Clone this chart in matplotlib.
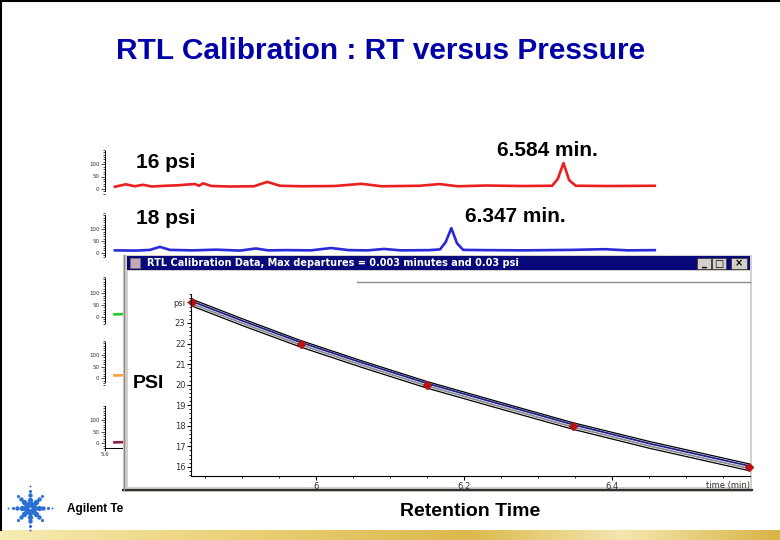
import numpy as np
import matplotlib
matplotlib.use('Agg')
import matplotlib.pyplot as plt
from matplotlib.patches import Rectangle
from matplotlib.ticker import MultipleLocator
from matplotlib.colors import LinearSegmentedColormap

W, H = 780, 540

# calibration points (retention time in min, head pressure in psi)
cal_t = [5.832, 5.979, 6.150, 6.347, 6.584]
cal_psi = [24, 22, 20, 18, 16]

# fitted curves
curve_t = [5.832, 5.90, 5.979, 6.06, 6.150, 6.25, 6.347, 6.45, 6.586]
fit_upper = [24.16, 23.21, 22.15, 21.18, 20.15, 19.13, 18.15, 17.24, 16.14]
fit_blue = [24.06, 23.11, 22.06, 21.09, 20.06, 19.04, 18.06, 17.14, 16.04]
fit_gray = [23.94, 22.99, 21.94, 20.97, 19.94, 18.92, 17.94, 17.02, 15.92]
fit_lower = [23.83, 22.88, 21.83, 20.86, 19.83, 18.81, 17.83, 16.91, 15.81]

psi_ticks = [16, 17, 18, 19, 20, 21, 22, 23, 24]
psi_labels = ['16', '17', '18', '19', '20', '21', '22', '23', 'psi']
time_ticks = [6.0, 6.2, 6.4]
time_labels = ['6', '6.2', '6.4']

# chromatogram at 16 psi
red_t = [5.636, 5.659, 5.678, 5.695, 5.714, 5.742, 5.770, 5.788, 5.805, 5.814,
         5.822, 5.840, 5.880, 5.930, 5.958, 5.985, 6.030, 6.100, 6.157, 6.200,
         6.280, 6.322, 6.360, 6.420, 6.500, 6.560, 6.572, 6.584, 6.596, 6.610,
         6.680, 6.777]
red_v = [8, 18, 10, 16, 9, 12, 14, 17, 19, 12,
         22, 11, 9, 10, 28, 12, 10, 11, 20, 10,
         12, 19, 10, 13, 11, 12, 40, 105, 35, 12,
         11, 12]

# chromatogram at 18 psi
blue_t = [5.636, 5.680, 5.710, 5.731, 5.752, 5.800, 5.850, 5.900, 5.934, 5.960,
          6.000, 6.050, 6.093, 6.130, 6.170, 6.205, 6.240, 6.300, 6.323, 6.335,
          6.347, 6.359, 6.372, 6.420, 6.500, 6.600, 6.671, 6.720, 6.777]
blue_v = [10, 9, 12, 25, 12, 10, 13, 9, 18, 10,
          11, 10, 20, 11, 10, 16, 10, 11, 14, 45,
          105, 40, 12, 11, 10, 12, 15, 10, 11]

# the three chromatograms hidden behind the window
green_t = [5.62, 5.64, 5.66, 5.70, 5.80, 6.00, 6.40, 6.78]
green_v = [10, 11, 9, 12, 10, 11, 10, 12]
orange_t = [5.62, 5.64, 5.66, 5.70, 5.80, 6.00, 6.40, 6.78]
orange_v = [12, 13, 11, 12, 14, 11, 12, 10]
maroon_t = [5.62, 5.64, 5.66, 5.70, 5.80, 6.00, 6.40, 6.78]
maroon_v = [4, 5, 3, 6, 4, 5, 4, 5]


def box(l, t, r, b):
    return [l / W, 1 - b / H, (r - l) / W, (b - t) / H]


fig = plt.figure(figsize=(7.8, 5.4), dpi=100)

# slide background
bg = fig.add_axes([0, 0, 1, 1], zorder=0)
gold = LinearSegmentedColormap.from_list(
    'gold', ['#f6ecb4', '#efd98a', '#e6c869', '#dcb94c', '#f4e6b0', '#d9b444'])
bg.imshow(np.linspace(0, 1, 256)[None, :], extent=(0, W, 540, 530),
          aspect='auto', cmap=gold)
bg.plot([1, 1], [0, 530], color='black', lw=1.5)
bg.plot([0, W], [0.5, 0.5], color='black', lw=1.5)
bg.text(381, 51, 'RTL Calibration : RT versus Pressure', ha='center', va='center',
        fontsize=21.5, fontweight='bold', color='#0000a8', family='Liberation Sans')

# Agilent spark logo
for k in range(8):
    ang = k * np.pi / 4
    n = 5 if k % 2 == 0 else 4
    for j in range(n):
        r = 4 + j * 4.5
        bg.scatter(30 + r * np.cos(ang), 508 + r * np.sin(ang),
                   s=max(20 - j * 5, 2), color='#2a6fd4', lw=0)
bg.text(67, 509, 'Agilent Te', va='center', fontsize=8.5, fontweight='bold',
        family='Liberation Sans')
bg.set_xlim(0, W)
bg.set_ylim(H, 0)
bg.axis('off')


def chrom(l, t, r, b, zero_px, px100, xs, ys, color, bounds, xlim=(5.615, 6.788)):
    ax = fig.add_axes(box(l, t, r, b), zorder=1)
    ax.patch.set_alpha(0)
    ax.plot(xs, ys, color=color, lw=1.9)
    ax.set_xlim(*xlim)
    ax.set_ylim(-(b - zero_px) / px100 * 100, (zero_px - t) / px100 * 100)
    for s in ['top', 'right', 'bottom']:
        ax.spines[s].set_visible(False)
    ax.spines['left'].set_bounds(*bounds)
    ax.spines['left'].set_linewidth(0.7)
    ax.set_yticks([0, 50, 100])
    ax.yaxis.set_minor_locator(MultipleLocator(10))
    ax.tick_params(axis='y', labelsize=4, length=3, width=0.6, pad=1, colors='#333333')
    ax.tick_params(axis='y', which='minor', length=1.5, width=0.5)
    ax.set_xticks([])
    return ax


chrom(105, 148, 660, 195, 188.7, 24.4, red_t, red_v, '#e82020', (-10, 155))
chrom(105, 212, 660, 258, 252.7, 23.4, blue_t, blue_v, '#2a2ad8', (-15, 160))
chrom(105, 275, 660, 325, 316.7, 23.4, green_t, green_v, '#22cc22', (-25, 165),
      xlim=(5.60, 6.78))
chrom(105, 339, 660, 386, 378.3, 23.4, orange_t, orange_v, '#ffa040', (-15, 155),
      xlim=(5.60, 6.78))
st = chrom(105, 404, 660, 448, 443.3, 23.4, maroon_t, maroon_v, '#8b2040', (-20, 160),
           xlim=(5.60, 6.78))
st.spines['bottom'].set_visible(True)
st.spines['bottom'].set_linewidth(0.7)
st.set_xticks([5.6])
st.set_xticklabels(['5.6'])
st.tick_params(axis='x', labelsize=4, length=2, pad=1, colors='#333333')

fig.text(166 / W, 1 - 163 / H, '16 psi', ha='center', va='center', fontsize=15,
         fontweight='bold', family='Liberation Sans')
fig.text(547 / W, 1 - 150 / H, '6.584 min.', ha='center', va='center', fontsize=15,
         fontweight='bold', family='Liberation Sans')
fig.text(166 / W, 1 - 218 / H, '18 psi', ha='center', va='center', fontsize=15,
         fontweight='bold', family='Liberation Sans')
fig.text(515 / W, 1 - 216 / H, '6.347 min.', ha='center', va='center', fontsize=15,
         fontweight='bold', family='Liberation Sans')

# calibration window
win = fig.add_axes([0, 0, 1, 1], zorder=2)
win.patch.set_alpha(0)
win.add_patch(Rectangle((123, 255), 629, 237, fc='#d4d0c8', ec='none'))
win.add_patch(Rectangle((128, 271), 622, 216, fc='white', ec='none'))
win.add_patch(Rectangle((127, 256), 623, 14, fc='#08087a', ec='none'))
win.plot([123, 752], [489.5, 489.5], color='#303030', lw=1.6)
win.plot([123.5, 123.5], [255, 490], color='#8c8c8c', lw=1)
win.add_patch(Rectangle((130, 258), 10, 10, fc='#c8a8b8', ec='#707070', lw=0.6))
win.text(147, 263.5, 'RTL Calibration Data, Max departures = 0.003 minutes and 0.03 psi',
         color='white', fontsize=7, fontweight='bold', va='center')
for bx, bw, sym in [(697, 14, '_'), (712, 14, '□'), (731, 16, '×')]:
    win.add_patch(Rectangle((bx, 258), bw, 11, fc='#d4d0c8', ec='#404040', lw=0.6))
    win.text(bx + bw / 2, 263.5, sym, ha='center', va='center', fontsize=7,
             fontweight='bold')
win.plot([357, 750], [282, 282], color='#8c8c8c', lw=1)
win.set_xlim(0, W)
win.set_ylim(H, 0)
win.axis('off')

# calibration curve
ax = fig.add_axes(box(191, 294, 750, 476), zorder=3)
ax.patch.set_alpha(0)
ax.plot(curve_t, fit_upper, color='black', lw=0.9)
ax.plot(curve_t, fit_blue, color='#20208c', lw=1.3)
ax.plot(curve_t, fit_gray, color='#8c8c96', lw=1.3)
ax.plot(curve_t, fit_lower, color='black', lw=0.9)
ax.plot(cal_t, cal_psi, 'D', color='#b41414', ms=4, clip_on=False)
ax.set_xlim(5.831, 6.586)
ax.set_ylim(15.56, 24.41)
ax.spines['top'].set_visible(False)
ax.spines['right'].set_visible(False)
ax.set_xticks(time_ticks)
ax.set_xticklabels(time_labels)
ax.set_yticks(psi_ticks)
ax.set_yticklabels(psi_labels)
ax.xaxis.set_minor_locator(MultipleLocator(0.05))
ax.yaxis.set_minor_locator(MultipleLocator(0.2))
ax.tick_params(labelsize=6, length=3, width=0.8, pad=1, labelcolor='#333333')
ax.tick_params(which='minor', length=1.5, width=0.6)
ax.text(1.0, -0.025, 'time (min)', transform=ax.transAxes, ha='right', va='top',
        fontsize=6, color='#333333')

fig.text(148 / W, 1 - 384 / H, 'PSI', ha='center', va='center', fontsize=14,
         fontweight='bold', family='Liberation Sans')
fig.text(470 / W, 1 - 511 / H, 'Retention Time', ha='center', va='center', fontsize=14,
         fontweight='bold', family='Liberation Sans')

fig.savefig('out.png', dpi=100)
